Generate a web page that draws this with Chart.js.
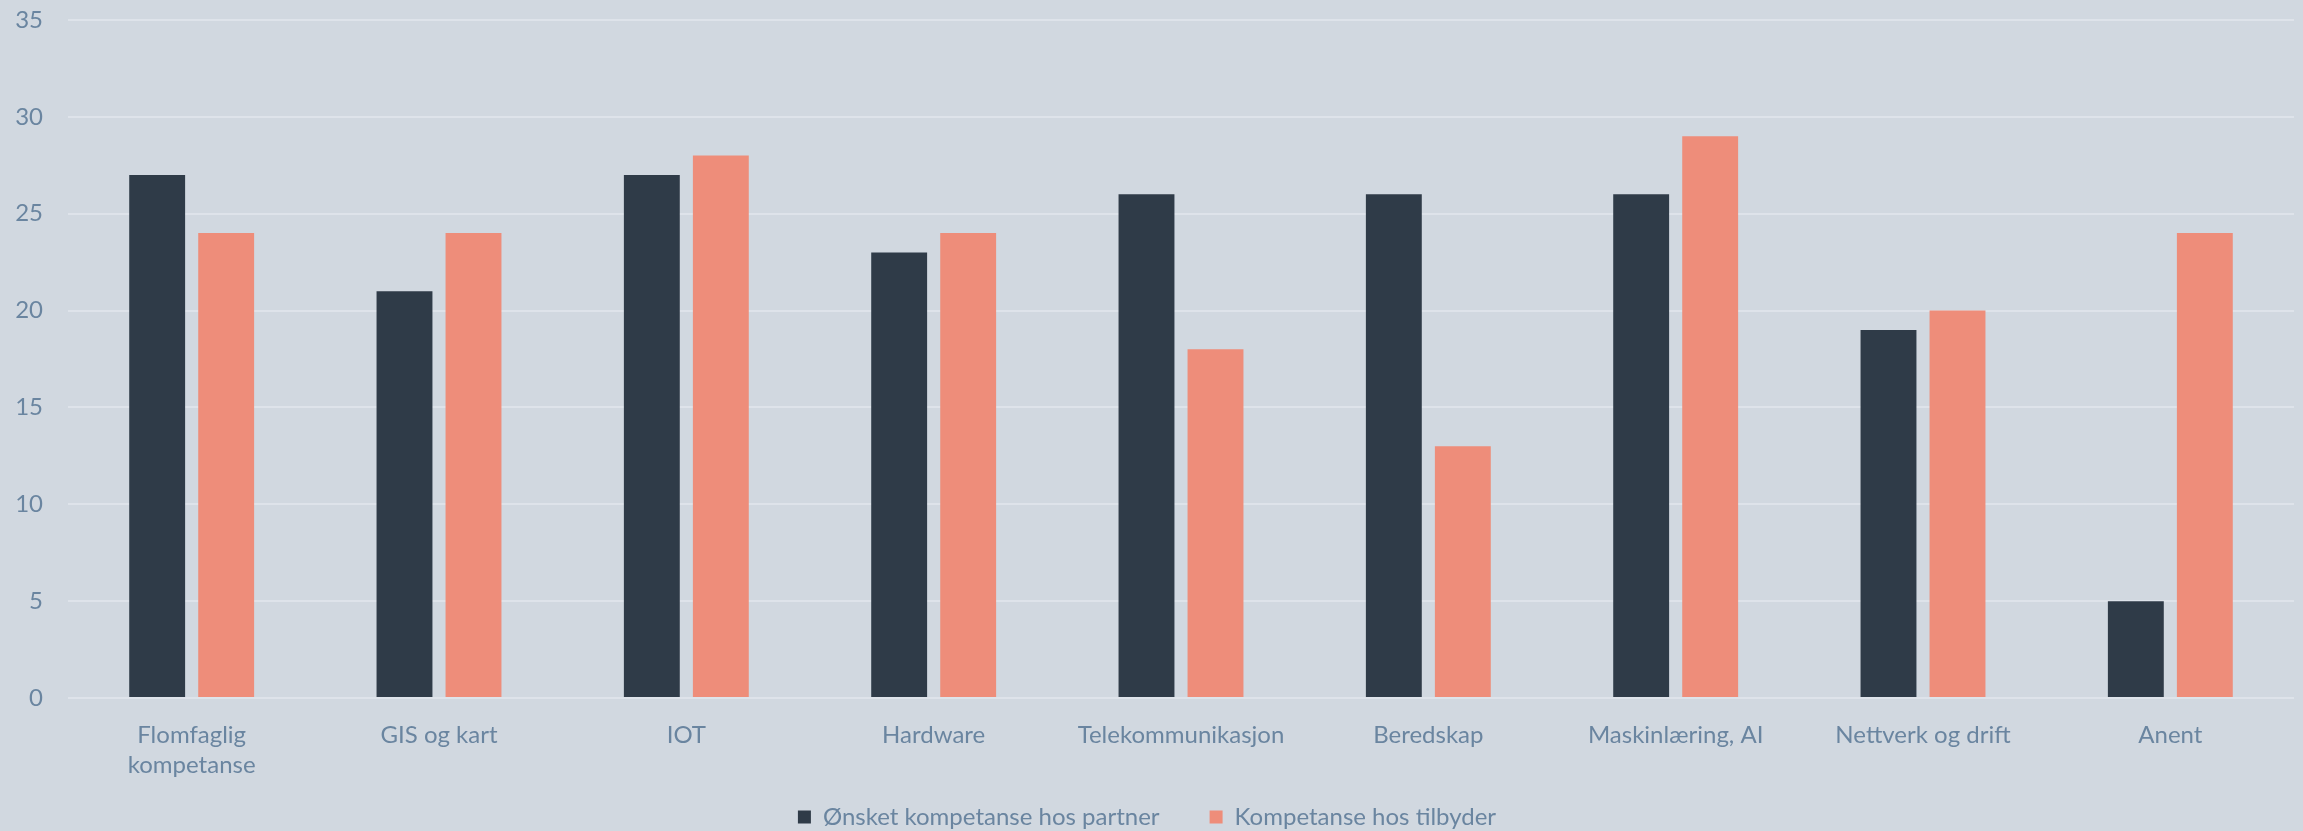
<!DOCTYPE html>
<html>
<head>
<meta charset="utf-8">
<script src="https://cdn.jsdelivr.net/npm/chart.js@4"></script>
<style>
  html, body { margin: 0; padding: 0; background: #d1d8e0; }
  #wrap { width: 2303px; height: 831px; }
</style>
</head>
<body>
<div id="wrap"><canvas id="chart" width="2303" height="831"></canvas></div>
<script>
// categories and series
const categories = [
    ['Flomfaglig', 'kompetanse'],
    'GIS og kart',
    'IOT',
    'Hardware',
    'Telekommunikasjon',
    'Beredskap',
    'Maskinlæring, AI',
    'Nettverk og drift',
    'Anent'
];
const partnerWanted = [27, 21, 27, 23, 26, 26, 26, 19, 5];
const offeredSkills = [24, 24, 28, 24, 18, 13, 29, 20, 24];
const yTicks = [0, 5, 10, 15, 20, 25, 30, 35];

const textColor = '#6a85a0';
const gridColor = '#dee3ea';

const data = {
    labels: categories,
    datasets: [
        {
            label: 'Ønsket kompetanse hos partner',
            data: partnerWanted,
            backgroundColor: '#2f3b48'
        },
        {
            label: 'Kompetanse hos tilbyder',
            data: offeredSkills,
            backgroundColor: '#ee8d7a'
        }
    ]
};

new Chart(document.getElementById('chart'), {
    type: 'bar',
    data: data,
    options: {
        responsive: false,
        animation: false,
        devicePixelRatio: 1,
        layout: { padding: { top: 20, right: 9, bottom: 0, left: 0 } },
        datasets: {
            bar: { categoryPercentage: 0.558, barPercentage: 0.81 }
        },
        scales: {
            x: {
                grid: { display: false },
                border: { display: false },
                afterFit: (scale) => {
                    // keep the axis box short so the legend sits close,
                    // but let the two-line label draw past it
                    scale.height = 57;
                    scale._computeLabelArea = () => null;
                },
                ticks: {
                    color: textColor,
                    font: { family: 'Lato', size: 24, lineHeight: 1.25 },
                    padding: 14,
                    maxRotation: 0,
                    autoSkip: false
                }
            },
            y: {
                min: 0,
                max: 35,
                afterBuildTicks: (scale) => {
                    scale.ticks = yTicks.map(v => ({ value: v }));
                },
                afterFit: (scale) => { scale.width = 68; },
                grid: {
                    color: gridColor,
                    lineWidth: 2,
                    drawTicks: true,
                    tickLength: 25,
                    tickColor: 'rgba(0,0,0,0)'
                },
                border: { display: false },
                ticks: {
                    color: textColor,
                    font: { family: 'Lato', size: 24 },
                    padding: 0
                }
            }
        },
        plugins: {
            tooltip: { enabled: false },
            legend: {
                position: 'bottom',
                maxHeight: 76,
                labels: {
                    color: textColor,
                    font: { family: 'Lato', size: 24 },
                    boxWidth: 13,
                    boxHeight: 13,
                    padding: 50
                }
            }
        }
    }
});
</script>
</body>
</html>
